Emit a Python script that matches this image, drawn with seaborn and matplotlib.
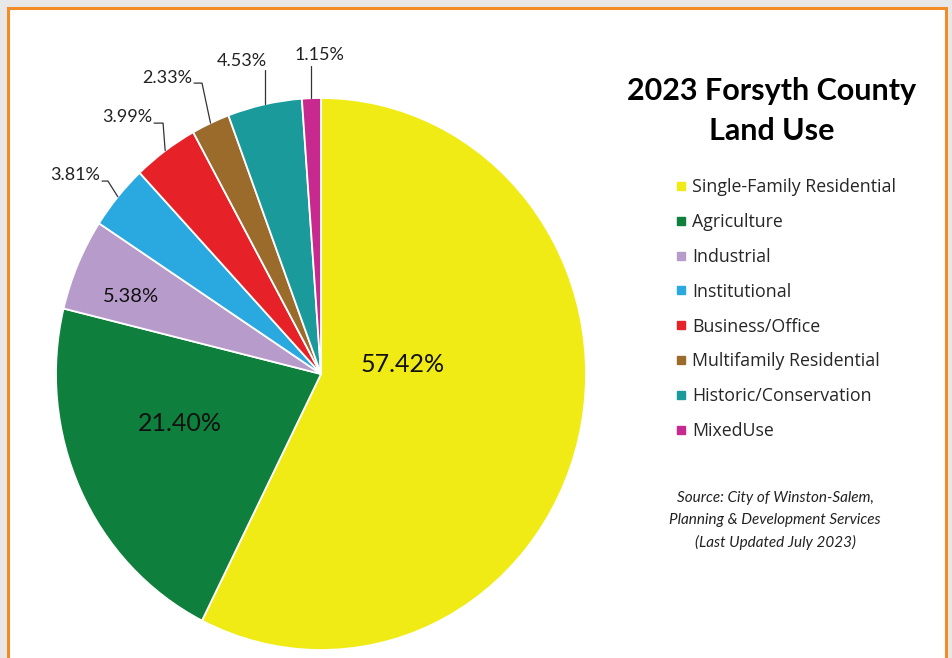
import numpy as np
import matplotlib.pyplot as plt
from matplotlib.lines import Line2D
from matplotlib.patches import Rectangle
import seaborn as sns

# Land use shares (percent), clockwise from 12 o'clock
categories = ["Single-Family Residential", "Agriculture", "Industrial", "Institutional",
              "Business/Office", "Multifamily Residential", "Historic/Conservation", "MixedUse"]
shares = [57.42, 21.40, 5.38, 3.81, 3.99, 2.33, 4.53, 1.15]
colors = ["#F0EB14", "#0E7F3C", "#B79CCB", "#2AA9E0", "#E62228", "#9A6B2B", "#1B9A9B", "#C8298F"]

sns.set_theme(style="white")
plt.rcParams["font.family"] = ["Lato", "DejaVu Sans"]

W, H = 953, 658
fig = plt.figure(figsize=(W / 100, H / 100), dpi=100, facecolor="#e8e8e8")
# white card with orange border
fig.patches.append(Rectangle((8 / W, -0.1), 938 / W, 1.1 - 8 / H, transform=fig.transFigure,
                             facecolor="white", edgecolor="#F28C28", lw=2.2, zorder=-5))

ax = fig.add_axes([0, 0, 1, 1])
ax.axis("off")
wedges, _ = ax.pie(shares, colors=colors, startangle=90, counterclock=False,
                   wedgeprops=dict(edgecolor="white", linewidth=1.3))
# pie is slightly taller than wide in the reference
ax.set_aspect("auto")
ax.set_xlim(-321 / 265, (W - 321) / 265)
ax.set_ylim((374 - H) / 276, 374 / 276)

labels = [f"{s:.2f}%" for s in shares]

# inside labels
inner = {0: ((0.309, 0.033), 18), 1: ((-0.532, -0.178), 18), 2: ((-0.717, 0.279), 14.5)}
for i, (pos, fs) in inner.items():
    ax.text(*pos, labels[i], ha="center", va="center", fontsize=fs, color="#111111")

# outside labels with leader lines
outer = {
    3: dict(text=(-0.834, 0.721), knee=(-0.804, 0.699)),
    4: dict(text=(-0.638, 0.931), knee=(-0.596, 0.909)),
    5: dict(text=(-0.487, 1.072), knee=(-0.449, 1.054)),
    6: dict(text=(-0.298, 1.134), top=1.101),
    7: dict(text=(-0.004, 1.156), top=1.116),
}
for i, spec in outer.items():
    w = wedges[i]
    th = np.deg2rad((w.theta1 + w.theta2) / 2)
    ex, ey = np.cos(th), np.sin(th)
    if "knee" in spec:
        kx, ky = spec["knee"]
        tx, ty = spec["text"]
        ax.plot([ex, kx, tx + 0.008], [ey, ky, ky], color="#333333", lw=0.9, clip_on=False)
        ax.text(tx, ty, labels[i], ha="right", va="center", fontsize=13, color="#222222")
    else:
        ax.plot([ex, ex], [ey, spec["top"]], color="#333333", lw=0.9, clip_on=False)
        ax.text(*spec["text"], labels[i], ha="center", va="center", fontsize=13, color="#222222")

fig.text(772 / W, 1 - 111 / H, "2023 Forsyth County\nLand Use", ha="center", va="center",
         fontsize=22, fontweight="bold", linespacing=1.55, color="black")

handles = [Line2D([], [], marker="s", linestyle="none", markersize=6.2,
                  markerfacecolor=c, markeredgecolor=c) for c in colors]
fig.legend(handles, categories, loc="upper left", bbox_to_anchor=(675 / W, 1 - 178 / H),
           frameon=False, prop=dict(family="Open Sans", size=12.8), labelspacing=0.95,
           handlelength=0.7, handletextpad=0.27, borderpad=0, borderaxespad=0)

fig.text(775 / W, 1 - 520.5 / H,
         "Source: City of Winston-Salem,\nPlanning & Development Services\n(Last Updated July 2023)",
         ha="center", va="center", fontsize=11, style="italic", linespacing=1.65, color="#222222")

fig.savefig("out.png", dpi=100, facecolor=fig.get_facecolor())
